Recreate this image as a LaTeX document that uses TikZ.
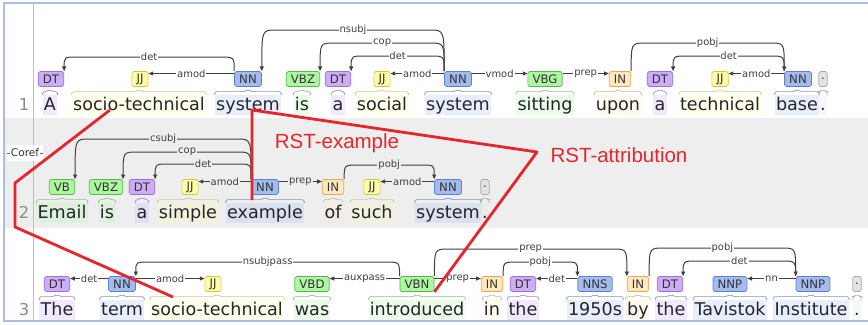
\documentclass[tikz,border=0pt]{standalone}
\usepackage{fontspec}
\setmainfont{DejaVu Sans}
\newfontfamily\rstfont{Liberation Sans}
\usepackage{tikz}
\usetikzlibrary{arrows.meta,calc}

\definecolor{dtc}{HTML}{CCADF6}
\definecolor{jjc}{HTML}{FFFDA8}
\definecolor{nnc}{HTML}{A4BCED}
\definecolor{vbc}{HTML}{ADF6A2}
\definecolor{inc}{HTML}{FFE8BE}
\definecolor{ptc}{HTML}{E3E3E3}
\definecolor{dtb}{HTML}{9A72D8}
\definecolor{jjb}{HTML}{CFC845}
\definecolor{nnb}{HTML}{5F80CF}
\definecolor{vbb}{HTML}{5FB552}
\definecolor{inb}{HTML}{E2A957}
\definecolor{ptb}{HTML}{A8A8A8}
\definecolor{rowgray}{HTML}{EEEEEE}
\definecolor{framec}{HTML}{A9BDE5}
\definecolor{rstred}{HTML}{E6262D}
\definecolor{arcc}{HTML}{404040}
\definecolor{txtc}{HTML}{25252F}

\setlength{\fboxsep}{0.6pt}

\tikzset{
  tagbox/.style={rounded corners=1.5pt, line width=0.6pt, inner xsep=4pt, inner ysep=0pt,
    minimum height=12.75pt, font=\fontsize{10}{11}\selectfont, text=black!80},
  tagdt/.style={tagbox, fill=dtc, draw=dtb},
  tagjj/.style={tagbox, fill=jjc, draw=jjb},
  tagnn/.style={tagbox, fill=nnc, draw=nnb},
  tagvb/.style={tagbox, fill=vbc, draw=vbb},
  tagin/.style={tagbox, fill=inc, draw=inb},
  tagpt/.style={tagbox, fill=ptc, draw=ptb, inner xsep=2pt},
  brace/.style={draw=#1!80!black, line width=0.6pt, rounded corners=1.5pt,
    to path={-- ++(0,3pt) -- ($(\tikztostart)!.5!(\tikztotarget)+(-2.5pt,3pt)$) -- ++(2.5pt,2.2pt)
      -- ++(2.5pt,-2.2pt) -- ($(\tikztotarget)+(0,3pt)$) -- (\tikztotarget)}},
  wd/.style={anchor=base, fill=#1, fill opacity=0.25, text opacity=1, text=txtc,
    inner xsep=1pt, inner ysep=1pt, text height=11.5pt, text depth=3.5pt,
    font=\fontsize{15}{18}\selectfont,
    append after command={(\tikzlastnode.north west) edge[brace=#1] (\tikzlastnode.north east)}},
  num/.style={anchor=base, text=black!45, font=\fontsize{14}{16}\selectfont},
  dep/.style={draw=arcc, line width=0.85pt, -{Triangle[length=4pt,width=3.4pt]}},
  arcl/.style={dep, to path={.. controls (\tikztostart |- 0,#1) .. ($(\tikztostart |- 0,#1)+(-12pt,0)$)
    -- ($(\tikztotarget |- 0,#1)+(12pt,0)$) \tikztonodes .. controls (\tikztotarget |- 0,#1) .. (\tikztotarget)}},
  arcr/.style={dep, to path={.. controls (\tikztostart |- 0,#1) .. ($(\tikztostart |- 0,#1)+(12pt,0)$)
    -- ($(\tikztotarget |- 0,#1)+(-12pt,0)$) \tikztonodes .. controls (\tikztotarget |- 0,#1) .. (\tikztotarget)}},
  lbl/.style={fill=white, inner sep=0.8pt, font=\fontsize{8.5}{9}\selectfont, text=black!75, midway},
  lblg/.style={lbl, fill=rowgray},
  coref/.style={fill=white, inner xsep=3pt, inner ysep=3pt, font=\fontsize{9}{10}\selectfont, text=black!80,
    path picture={\draw[black!60, line width=0.5pt] (path picture bounding box.west) -- (path picture bounding box.east);}},
  redline/.style={draw=rstred, line width=2.4pt, line join=round},
  rst/.style={text=rstred, font=\rstfont\fontsize{17.5}{20}\selectfont}
}

\begin{document}
\begin{tikzpicture}[x=0.03cm, y=-0.03cm]
  \useasboundingbox (0,0) rectangle (868,324);
  \fill[white] (0,0) rectangle (868,324);
  \fill[rowgray] (5,118) rectangle (868,228);
  \draw[black!25, line width=0.8pt] (33,4) -- (33,321);
  \draw[framec, line width=1.5pt] (4,3) rectangle (880,321);

  \node[num] (n1) at (24,110) {1};
  \node[num] (n2) at (24,218) {2};
  \node[num] (n3) at (24,315) {3};

  \node[tagdt] (A1) at (51,79) {DT};
  \node[tagjj] (A2) at (140,79) {JJ};
  \node[tagnn] (A3) at (248,79) {NN};
  \node[tagvb] (A4) at (303,79) {VBZ};
  \node[tagdt] (A5) at (338,79) {DT};
  \node[tagjj] (A6) at (382,79) {JJ};
  \node[tagnn] (A7) at (458,79) {NN};
  \node[tagvb] (A8) at (545,79) {VBG};
  \node[tagin] (A9) at (620,79) {IN};
  \node[tagdt] (A10) at (660,79) {DT};
  \node[tagjj] (A11) at (720,79) {JJ};
  \node[tagnn] (A12) at (798,79) {NN};
  \node[tagpt] (A13) at (823,79) {.};

  \node[wd=dtc] (wA1) at (50,110) {A};
  \node[wd=jjc] (wA2) at (139,110) {socio-technical};
  \node[wd=nnc] (wA3) at (248,110) {system};
  \node[wd=vbc] (wA4) at (302,110) {is};
  \node[wd=dtc] (wA5) at (338,110) {a};
  \node[wd=jjc] (wA6) at (382,110) {social};
  \node[wd=nnc] (wA7) at (458,110) {system};
  \node[wd=vbc] (wA8) at (545,110) {sitting};
  \node[wd=inc] (wA9) at (618,110) {upon};
  \node[wd=dtc] (wA10) at (660,110) {a};
  \node[wd=jjc] (wA11) at (720,110) {technical};
  \node[wd=nnc] (wA12) at (797,110) {base};
  \node[wd=ptc] (wA13) at (823,110) {.};

  \draw[arcl=57] (A3.north west) to node[lbl]{det} (A1.north east);
  \draw[dep] ([yshift=-2pt]A3.north west) -- node[lbl]{amod} ([yshift=-2pt]A2.north east);
  \draw[arcl=30] (A7.north west) to node[lbl]{nsubj} (A3.north east);
  \draw[arcl=43] (A7.north west) to node[lbl]{cop} (A4.north east);
  \draw[arcl=56] (A7.north west) to node[lbl]{det} (A5.north east);
  \draw[dep] ([yshift=-2pt]A7.north west) -- node[lbl]{amod} ([yshift=-2pt]A6.north east);
  \draw[dep] ([yshift=-2pt]A7.north east) -- node[lbl]{vmod} ([yshift=-2pt]A8.north west);
  \draw[dep] ([yshift=-2pt]A8.north east) -- node[lbl]{prep} ([yshift=-2pt]A9.north west);
  \draw[arcr=43] (A9.north east) to node[lbl]{pobj} (A12.north west);
  \draw[arcl=56] (A12.north west) to node[lbl]{det} (A10.north east);
  \draw[dep] ([yshift=-2pt]A12.north west) -- node[lbl]{amod} ([yshift=-2pt]A11.north east);

  \node[tagvb] (B1) at (62,187) {VB};
  \node[tagvb] (B2) at (106,187) {VBZ};
  \node[tagdt] (B3) at (142,187) {DT};
  \node[tagjj] (B4) at (190,187) {JJ};
  \node[tagnn] (B5) at (265,187) {NN};
  \node[tagin] (B6) at (333,187) {IN};
  \node[tagjj] (B7) at (372,187) {JJ};
  \node[tagnn] (B8) at (448,187) {NN};
  \node[tagpt] (B9) at (485,187) {.};

  \node[wd=vbc] (wB1) at (62,218) {Email};
  \node[wd=vbc] (wB2) at (107,218) {is};
  \node[wd=dtc] (wB3) at (142,218) {a};
  \node[wd=jjc] (wB4) at (188,218) {simple};
  \node[wd=nnc] (wB5) at (265,218) {example};
  \node[wd=inc] (wB6) at (333,218) {of};
  \node[wd=jjc] (wB7) at (372,218) {such};
  \node[wd=nnc] (wB8) at (448,218) {system};
  \node[wd=ptc] (wB9) at (485,218) {.};

  \draw[arcl=139] (B5.north west) to node[lblg]{csubj} (B1.north east);
  \draw[arcl=152] (B5.north west) to node[lblg]{cop} (B2.north east);
  \draw[arcl=164] (B5.north west) to node[lblg]{det} (B3.north east);
  \draw[dep] ([yshift=-2pt]B5.north west) -- node[lblg]{amod} ([yshift=-2pt]B4.north east);
  \draw[dep] ([yshift=-2pt]B5.north east) -- node[lblg]{prep} ([yshift=-2pt]B6.north west);
  \draw[arcr=165] (B6.north east) to node[lblg]{pobj} (B8.north west);
  \draw[dep] ([yshift=-2pt]B8.north west) -- node[lblg]{amod} ([yshift=-2pt]B7.north east);

  \node[tagdt] (C1) at (57,284) {DT};
  \node[tagnn] (C2) at (122,284) {NN};
  \node[tagjj] (C3) at (213,284) {JJ};
  \node[tagvb] (C4) at (312,284) {VBD};
  \node[tagvb] (C5) at (417,284) {VBN};
  \node[tagin] (C6) at (492,284) {IN};
  \node[tagdt] (C7) at (523,284) {DT};
  \node[tagnn] (C8) at (595,284) {NNS};
  \node[tagin] (C9) at (638,284) {IN};
  \node[tagdt] (C10) at (670,284) {DT};
  \node[tagnn] (C11) at (730,284) {NNP};
  \node[tagnn] (C12) at (813,284) {NNP};
  \node[tagpt] (C13) at (857,284) {.};

  \node[wd=dtc] (wC1) at (57,315) {The};
  \node[wd=nnc] (wC2) at (122,315) {term};
  \node[wd=jjc] (wC3) at (217,315) {socio-technical};
  \node[wd=vbc] (wC4) at (312,315) {was};
  \node[wd=vbc] (wC5) at (417,315) {introduced};
  \node[wd=inc] (wC6) at (492,315) {in};
  \node[wd=dtc] (wC7) at (523,315) {the};
  \node[wd=nnc] (wC8) at (595,315) {1950s};
  \node[wd=inc] (wC9) at (638,315) {by};
  \node[wd=dtc] (wC10) at (671,315) {the};
  \node[wd=nnc] (wC11) at (730,315) {Tavistok};
  \node[wd=nnc] (wC12) at (811,315) {Institute};
  \node[wd=ptc] (wC13) at (857,315) {.};

  \draw[dep] ([yshift=-2pt]C2.north west) -- node[lbl]{det} ([yshift=-2pt]C1.north east);
  \draw[dep] ([yshift=-2pt]C2.north east) -- node[lbl]{amod} ([yshift=-2pt]C3.north west);
  \draw[arcl=262] (C5.north west) to node[lbl]{nsubjpass} (C2.north east);
  \draw[dep] ([yshift=-2pt]C5.north west) -- node[lbl]{auxpass} ([yshift=-2pt]C4.north east);
  \draw[dep] ([yshift=-2pt]C5.north east) -- node[lbl]{prep} ([yshift=-2pt]C6.north west);
  \draw[arcr=249] (C5.north east) to node[lbl]{prep} (C9.north west);
  \draw[arcr=262] (C6.north east) to node[lbl]{pobj} (C8.north west);
  \draw[dep] ([yshift=-2pt]C8.north west) -- node[lbl]{det} ([yshift=-2pt]C7.north east);
  \draw[arcr=248] (C9.north east) to node[lbl]{pobj} (C12.north west);
  \draw[arcl=261] (C12.north west) to node[lbl]{det} (C10.north east);
  \draw[dep] ([yshift=-2pt]C12.north west) -- node[lbl]{nn} ([yshift=-2pt]C11.north east);

  \node[coref] (coref) at (25,153) {\colorbox{white}{Coref}};
  \coordinate (cr1) at (15,183);
  \coordinate (cr2) at (15,227);
  \coordinate (rst) at (537,152);
  \draw[redline] ($(wA2.base)+(-29,0)$) -- (cr1) -- (cr2) -- ($(wC3.base)+(-44,-18)$);
  \draw[redline] ($(wB5.base)+(-13,-18)$) -- ($(wA3.base)+(4,0)$) -- (rst) -- (C5.south east);
  \node[rst] (rstex) at (337,143) {RST-example};
  \node[rst] (rstat) at (619,155) {RST-attribution};
\end{tikzpicture}
\end{document}
